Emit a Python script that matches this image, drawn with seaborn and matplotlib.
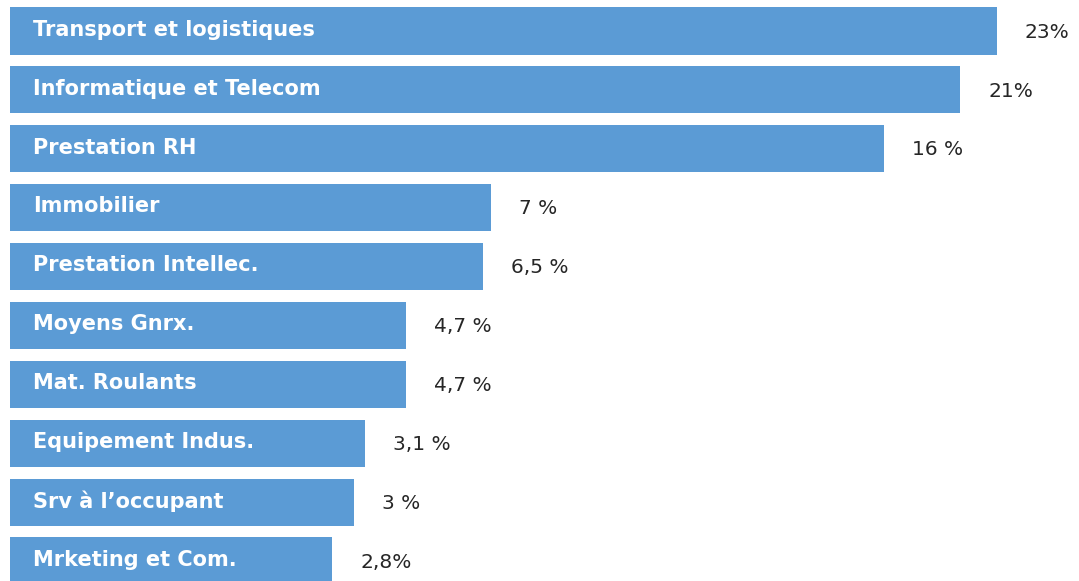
# Horizontal bar chart of spend categories
import pandas as pd
import matplotlib.pyplot as plt
import seaborn as sns

categories = ['Transport et logistiques', 'Informatique et Telecom', 'Prestation RH',
              'Immobilier', 'Prestation Intellec.', 'Moyens Gnrx.', 'Mat. Roulants',
              'Equipement Indus.', 'Srv à l\u2019occupant', 'Mrketing et Com.']
value_labels = ['23%', '21%', '16 %', '7 %', '6,5 %', '4,7 %', '4,7 %', '3,1 %', '3 %', '2,8%']
# bar lengths as drawn in the picture (not proportional to the labels)
bar_lengths = [987, 950, 874, 481, 473, 396, 396, 355, 344, 322]

df = pd.DataFrame({'category': categories, 'length': bar_lengths, 'label': value_labels})

fig = plt.figure(figsize=(10.79, 5.81), dpi=100)
ax = fig.add_axes([10 / 1079, 0, 1 - 10 / 1079, 1])

sns.barplot(data=df, x='length', y='category', color='#5b9bd5', saturation=1,
            width=0.8, ax=ax)

for i, row in df.iterrows():
    ax.text(23, i - 0.02, row['category'], color='white', fontweight='bold',
            fontsize=15, va='center', ha='left', family='DejaVu Sans')
    ax.text(row['length'] + 28, i + 0.02, row['label'], color='#262626',
            fontsize=14.5, va='center', ha='left', family='DejaVu Sans')

ax.set_xlim(0, 1069)
ax.set_ylim(9.34, -0.526)
ax.axis('off')

fig.savefig('out.png', dpi=100)
